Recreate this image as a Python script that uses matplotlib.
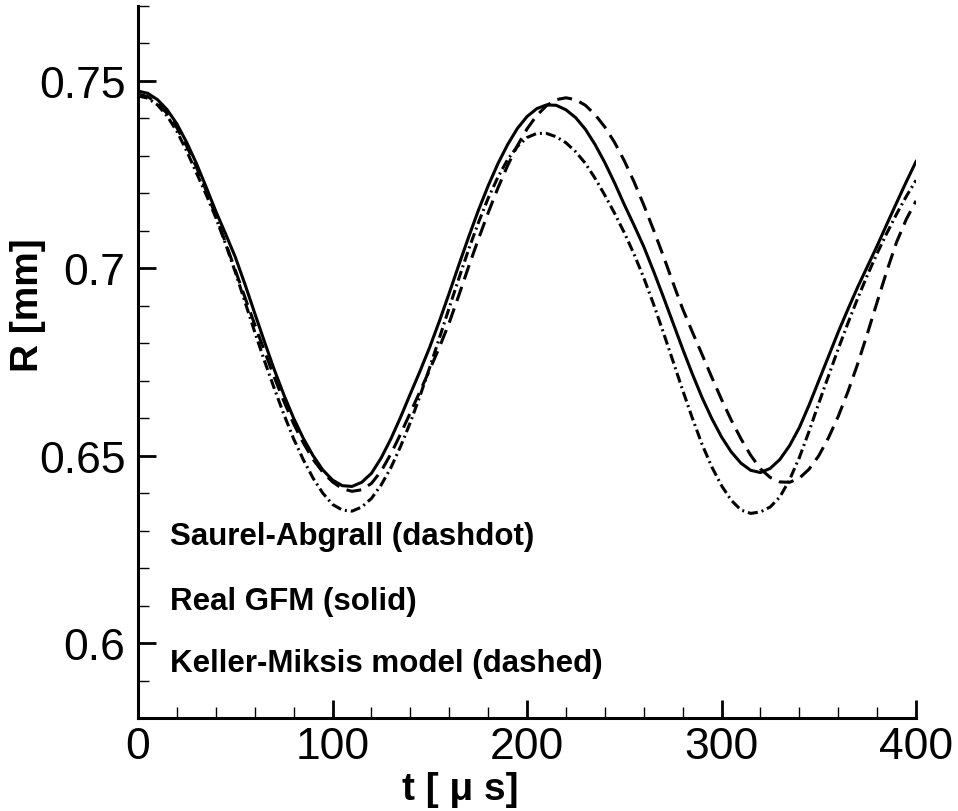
import matplotlib
matplotlib.use("Agg")
import matplotlib.pyplot as plt
from matplotlib.ticker import MultipleLocator, FormatStrFormatter

# time axis, every 5 microseconds
t = list(range(0, 405, 5))

# Real GFM (solid)
r_gfm = [0.7473, 0.7467, 0.7450, 0.7423, 0.7385, 0.7336, 0.7280, 0.7217, 0.7152, 0.7092,
         0.7030, 0.6957, 0.6880, 0.6804, 0.6730, 0.6662, 0.6600, 0.6546, 0.6500, 0.6462,
         0.6435, 0.6420, 0.6418, 0.6429, 0.6453, 0.6494, 0.6545, 0.6603, 0.6665, 0.6726,
         0.6790, 0.6860, 0.6934, 0.7010, 0.7084, 0.7155, 0.7220, 0.7279, 0.7330, 0.7373,
         0.7405, 0.7426, 0.7436, 0.7435, 0.7423, 0.7402, 0.7371, 0.7330, 0.7282, 0.7228,
         0.7170, 0.7115, 0.7058, 0.6993, 0.6925, 0.6855, 0.6785, 0.6718, 0.6655, 0.6599,
         0.6550, 0.6510, 0.6480, 0.6461, 0.6455, 0.6466, 0.6490, 0.6527, 0.6575, 0.6635,
         0.6700, 0.6765, 0.6830, 0.6891, 0.6950, 0.7005, 0.7060, 0.7118, 0.7175, 0.7231,
         0.7285]

# Keller-Miksis model (dashed)
r_km = [0.7465, 0.7458, 0.7440, 0.7413, 0.7375, 0.7326, 0.7270, 0.7208, 0.7140, 0.7068,
        0.6995, 0.6922, 0.6850, 0.6779, 0.6710, 0.6645, 0.6585, 0.6534, 0.6490, 0.6456,
        0.6430, 0.6412, 0.6405, 0.6409, 0.6426, 0.6459, 0.6505, 0.6558, 0.6615, 0.6672,
        0.6730, 0.6790, 0.6855, 0.6929, 0.7005, 0.7078, 0.7148, 0.7214, 0.7274, 0.7327,
        0.7372, 0.7408, 0.7434, 0.7450, 0.7455, 0.7450, 0.7435, 0.7410, 0.7377, 0.7336,
        0.7287, 0.7231, 0.7169, 0.7103, 0.7034, 0.6962, 0.6892, 0.6830, 0.6770, 0.6709,
        0.6650, 0.6595, 0.6545, 0.6501, 0.6465, 0.6442, 0.6430, 0.6429, 0.6440, 0.6464,
        0.6500, 0.6548, 0.6605, 0.6671, 0.6745, 0.6826, 0.6910, 0.6993, 0.7070, 0.7131,
        0.7180]

# Saurel-Abgrall (dashdot)
r_sa = [0.7460, 0.7454, 0.7436, 0.7406, 0.7365, 0.7313, 0.7255, 0.7197, 0.7135, 0.7065,
        0.6990, 0.6910, 0.6830, 0.6753, 0.6680, 0.6610, 0.6545, 0.6489, 0.6440, 0.6400,
        0.6370, 0.6355, 0.6352, 0.6363, 0.6386, 0.6422, 0.6468, 0.6525, 0.6589, 0.6660,
        0.6736, 0.6815, 0.6895, 0.6974, 0.7051, 0.7122, 0.7187, 0.7243, 0.7290, 0.7325,
        0.7349, 0.7360, 0.7360, 0.7351, 0.7335, 0.7311, 0.7280, 0.7240, 0.7195, 0.7147,
        0.7095, 0.7038, 0.6975, 0.6905, 0.6830, 0.6753, 0.6675, 0.6600, 0.6530, 0.6470,
        0.6420, 0.6381, 0.6355, 0.6346, 0.6350, 0.6363, 0.6390, 0.6436, 0.6495, 0.6565,
        0.6640, 0.6713, 0.6785, 0.6854, 0.6920, 0.6982, 0.7040, 0.7094, 0.7145, 0.7192,
        0.7235]

labels = ["Saurel-Abgrall (dashdot)", "Real GFM (solid)", "Keller-Miksis model (dashed)"]
label_y = [0.6287, 0.6113, 0.5948]

plt.rcParams['font.family'] = ['Liberation Sans', 'DejaVu Sans']

fig = plt.figure(figsize=(9.58, 8.12), dpi=100)
ax = fig.add_axes([0.1441, 0.1145, 0.8121, 0.8769])

lw = 2.2
ax.plot(t, r_gfm, color='black', lw=lw, linestyle='-')
ax.plot(t, r_km, color='black', lw=lw, dashes=(4.9, 2.6))
ax.plot(t, r_sa, color='black', lw=lw, dashes=(3.3, 1.3, 0.65, 1.3))

ax.set_xlim(0, 400)
ax.set_ylim(0.58, 0.77)

for s in ['top', 'right']:
    ax.spines[s].set_visible(False)
for s in ['left', 'bottom']:
    ax.spines[s].set_linewidth(2.2)

ax.xaxis.set_major_locator(MultipleLocator(100))
ax.xaxis.set_minor_locator(MultipleLocator(20))
ax.yaxis.set_major_locator(MultipleLocator(0.05))
ax.yaxis.set_minor_locator(MultipleLocator(0.01))
ax.yaxis.set_major_formatter(FormatStrFormatter('%g'))

ax.tick_params(which='both', direction='in', top=False, right=False)
ax.tick_params(which='major', length=13, width=2.0, labelsize=32)
ax.tick_params(which='minor', length=8, width=1.0)
ax.tick_params(axis='x', which='major', pad=6)
ax.tick_params(axis='y', which='major', pad=9)

# axis titles placed like the original (outside the tick labels)
fig.text(0.4807, 0.0271, "t [ μ s]", fontsize=28, fontweight='bold',
         ha='center', va='center')
fig.text(0.0292, 0.6244, "R [mm]", fontsize=28, fontweight='bold',
         ha='center', va='center', rotation=90)

for txt, yy in zip(labels, label_y):
    ax.text(16.5, yy, txt, fontsize=22.5, fontweight='bold', ha='left', va='center')

fig.savefig("out.png", dpi=100)
